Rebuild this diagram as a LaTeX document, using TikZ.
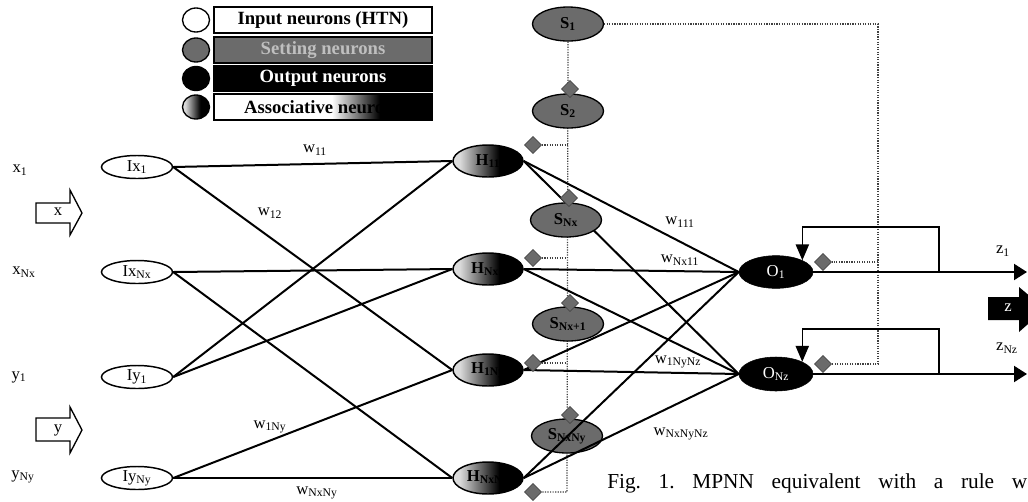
\documentclass[tikz,border=0pt]{standalone}
\usepackage{fontspec}
\setmainfont{Liberation Serif}
\usetikzlibrary{shapes.geometric,arrows.meta,backgrounds}
\pgfdeclarehorizontalshading{hgrad}{100bp}{color(0bp)=(white); color(30bp)=(white!85!black); color(58bp)=(black); color(100bp)=(black)}
\pgfdeclarehorizontalshading{assocgrad}{100bp}{color(0bp)=(white); color(52bp)=(white); color(63bp)=(black); color(100bp)=(black)}
\newcommand\sbs[1]{\textsubscript{#1}}
\begin{document}
\begin{tikzpicture}[x=0.75pt,y=-0.75pt,
  conn/.style={line width=1.5pt},
  dotl/.style={densely dotted, line width=0.9pt, black!75},
  lbl/.style={inner sep=0pt, font=\fontsize{12.5}{14}\selectfont},
  inp/.style={ellipse, draw, line width=1.1pt, fill=white, minimum width=53.25pt, minimum height=17.25pt, inner sep=0pt, font=\fontsize{12.5}{14}\selectfont},
  hid/.style={ellipse, draw, line width=1.1pt, shading=hgrad, minimum width=52.5pt, minimum height=24pt, inner sep=0pt, font=\bfseries\fontsize{12.5}{14}\selectfont},
  sz/.style={ellipse, draw, line width=1pt, fill=black!58, minimum width=53.25pt, minimum height=25.5pt, inner sep=0pt, font=\bfseries\fontsize{12.5}{14}\selectfont},
  outn/.style={ellipse, draw, fill=black, text=white, minimum width=55.5pt, minimum height=24.5pt, inner sep=0pt, font=\fontsize{12.5}{14}\selectfont},
  dia/.style={diamond, fill=black!58, draw=black!75, minimum size=13pt, inner sep=0pt},
  legbox/.style={draw, line width=0.9pt, minimum width=163.5pt, minimum height=19.5pt, inner sep=0pt, font=\bfseries\fontsize{14}{16}\selectfont},
  legc/.style={ellipse, draw, line width=1pt, minimum width=20.25pt, minimum height=18pt, inner sep=0pt},
  bigtip/.style={-{Triangle[length=9.75pt,width=12pt]}},
  fbtip/.style={-{Triangle[length=12pt,width=10pt]}}
]
\useasboundingbox (0,0) rectangle (1028,501);
\clip (0,0) rectangle (1028,501);

% legend
\node[legc, fill=white] (c1) at (196,20) {};
\node[legc, fill=black!58] (c2) at (196,50) {};
\node[legc, fill=black] (c3) at (196,78.5) {};
\node[legc, shading=hgrad] (c4) at (196,107) {};
\node[legbox, fill=white] (lg1) at (323,20) {Input neurons (HTN)};
\node[legbox, fill=black!58, text=black!25] (lg2) at (323,50) {Setting neurons};
\node[legbox, fill=black, text=white] (lg3) at (323,78.5) {Output neurons};
\node[legbox, shading=assocgrad] (lg4) at (323,107) {Associative neurons};

% input labels and block arrows
\node[lbl] (lx1) at (20,170) {x\sbs{1}};
\node[lbl] (lxN) at (24,272) {x\sbs{Nx}};
\node[lbl] (ly1) at (19,377) {y\sbs{1}};
\node[lbl] (lyN) at (23,477) {y\sbs{Ny}};
\draw[line width=1pt, fill=white] (36,203) -- (70,203) -- (70,190) -- (82,213) -- (70,235) -- (70,223) -- (36,223) -- cycle;
\node[lbl] (xarr) at (58,212) {x};
\draw[line width=1pt, fill=white] (36,418) -- (70,418) -- (70,407) -- (82,430) -- (70,453) -- (70,441) -- (36,441) -- cycle;
\node[lbl] (yarr) at (58,430) {y};

% input neurons
\node[inp] (Ix1) at (137,167) {Ix\sbs{1}};
\node[inp] (IxN) at (137,272) {Ix\sbs{Nx}};
\node[inp] (Iy1) at (137,377) {Iy\sbs{1}};
\node[inp] (IyN) at (137,478) {Iy\sbs{Ny}};

% hidden (associative) neurons
\node[hid] (H1) at (488,161) {H\sbs{11}};
\node[hid] (H2) at (488,269) {H\sbs{Nx1}};
\node[hid] (H3) at (488,370) {H\sbs{1Ny}};
\node[hid] (H4) at (488,478) {H\sbs{NxNy}};

% input -> hidden
\draw[conn] (Ix1.east) -- (H1.west);
\draw[conn] (Ix1.east) -- (H3.west);
\draw[conn] (IxN.east) -- (H2.west);
\draw[conn] (IxN.east) -- (H4.west);
\draw[conn] (Iy1.east) -- (H1.west);
\draw[conn] (Iy1.east) -- (H2.west);
\draw[conn] (IyN.east) -- (H3.west);
\draw[conn] (IyN.east) -- (H4.west);

\node[lbl] (w11) at (315,150) {w\sbs{11}};
\node[lbl] (w12) at (270,213) {w\sbs{12}};
\node[lbl] (w1Ny) at (270,427) {w\sbs{1Ny}};
\node[lbl] (wNxNy) at (317,493) {w\sbs{NxNy}};

% output neurons
\node[outn] (O1) at (776,272) {O\sbs{1}};
\node[outn, minimum height=25.5pt] (O2) at (776,374) {O\sbs{Nz}};

% sizing neuron drawn under the connectors
\node[sz] (S5) at (567,436) {S\sbs{NxNy}};

% hidden -> output
\foreach \h in {H1,H2,H3,H4}{
  \draw[conn] (\h.east) -- (O1.west);
  \draw[conn] (\h.east) -- (O2.west);
}

\node[lbl] (w111) at (680,222) {w\sbs{111}};
\node[lbl] (wNx11) at (680,260) {w\sbs{Nx11}};
\node[lbl] (w1NyNz) at (678,362) {w\sbs{1NyNz}};
\node[lbl] (wNxNyNz) at (681,434) {w\sbs{NxNyNz}};

% sizing neurons
\node[sz] (S1) at (568,24) {S\sbs{1}};
\node[sz] (S2) at (568,111) {S\sbs{2}};
\node[sz] (S3) at (566,220) {S\sbs{Nx}};
\node[sz] (S4) at (568,324) {S\sbs{Nx+1}};

% diamonds
\node[dia] (dS2) at (570,89) {};
\node[dia] (dS3) at (569,198) {};
\node[dia] (dS4) at (570,303) {};
\node[dia] (dS5) at (570,415) {};
\node[dia] (dH1) at (533,145) {};
\node[dia] (dH2) at (533,258) {};
\node[dia] (dH3) at (533,363) {};
\node[dia] (dH4) at (533,492) {};
\node[dia] (dO1) at (823,262) {};
\node[dia] (dO2) at (823,364) {};

% dotted control lines
\coordinate (v1) at (568,145);
\coordinate (v2) at (567,258);
\coordinate (v3) at (567,363);
\coordinate (vb) at (567,492);
\coordinate (r0) at (878,24);
\coordinate (r1) at (878,262);
\coordinate (r2) at (878,364);
\begin{scope}[on background layer]
\draw[dotl] (S1.south) -- (vb) -- (dH4.east);
\end{scope}
\draw[dotl] (dH1.east) -- (v1);
\draw[dotl] (dH2.east) -- (v2);
\draw[dotl] (dH3.east) -- (v3);
\draw[dotl] (S1.east) -- (r0) -- (r2) -- (dO2.east);
\draw[dotl] (r1) -- (dO1.east);

% outputs and feedback
\coordinate (z1e) at (1027,272);
\coordinate (z2e) at (1027,374);
\coordinate (f1) at (939,272);
\coordinate (f1t) at (939,227);
\coordinate (f2) at (939,374);
\coordinate (f2t) at (939,329);
\draw[conn, bigtip] (O1.east) -- (z1e);
\draw[conn, bigtip] (O2.east) -- (z2e);
\draw[line width=1.1pt, fbtip] (f1) -- (f1t) -| (O1.24);
\draw[line width=1.1pt, fbtip] (f2) -- (f2t) -| (O2.25);
\node[lbl] (lz1) at (1003,251) {z\sbs{1}};
\node[lbl] (lzN) at (1007,348) {z\sbs{Nz}};
\fill (988,297) -- (1019,297) -- (1019,287) -- (1045,309) -- (1019,332) -- (1019,320) -- (988,320) -- cycle;
\node[lbl, text=white] (zarr) at (1008,308) {z};

% caption
\node[anchor=base west, inner sep=0pt, font=\fontsize{16}{18}\selectfont] (cap) at (607,488) {\hbox to 315pt{Fig.\hfill 1.\hfill MPNN\hfill equivalent\hfill with\hfill a\hfill rule\hfill w}};
\end{tikzpicture}
\end{document}
